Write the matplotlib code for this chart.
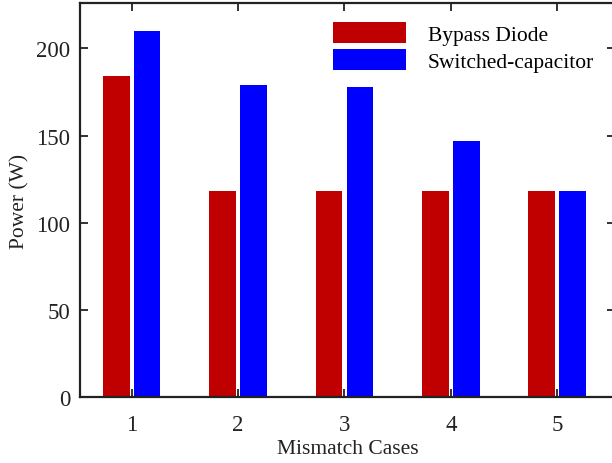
import matplotlib
matplotlib.use("Agg")
import matplotlib.pyplot as plt
import numpy as np

cases = [1, 2, 3, 4, 5]
bypass_diode = [184, 118, 118, 118, 118]
switched_cap = [210, 179, 178, 147, 118]
y_ticks = [0, 50, 100, 150, 200]

plt.rcParams['font.family'] = ['Liberation Serif', 'DejaVu Serif']

fig = plt.figure(figsize=(6.12, 4.64), dpi=100)
ax = fig.add_axes([0.1307, 0.142, 0.874, 0.849])

x = np.array(cases)
w = 0.25
off = 0.145
ax.bar(x - off, bypass_diode, w, color='#C00000', label='Bypass Diode')
ax.bar(x + off, switched_cap, w, color='#0000FF', label='Switched-capacitor')

ax.set_xlim(0.514, 5.542)
ax.set_ylim(0, 226)
ax.set_xticks(cases)
ax.set_yticks(y_ticks)
ax.tick_params(direction='in', top=True, right=True, length=6, width=1.3,
               labelsize=16.5, colors='#222222')
ax.tick_params(axis='x', pad=12)
ax.tick_params(axis='y', pad=7)
for s in ax.spines.values():
    s.set_linewidth(1.6)
    s.set_color('#222222')

ax.set_xlabel('Mismatch Cases', fontsize=15.5, color='#222222', labelpad=3)
ax.set_ylabel('Power (W)', fontsize=15.5, color='#222222', labelpad=5)

ax.legend(loc='upper right', bbox_to_anchor=(0.977, 0.975), frameon=False,
          fontsize=15.5, handlelength=3.4, handleheight=1.15, handletextpad=1.0,
          labelspacing=0.2, borderaxespad=0)

fig.savefig('out.png', dpi=100)
